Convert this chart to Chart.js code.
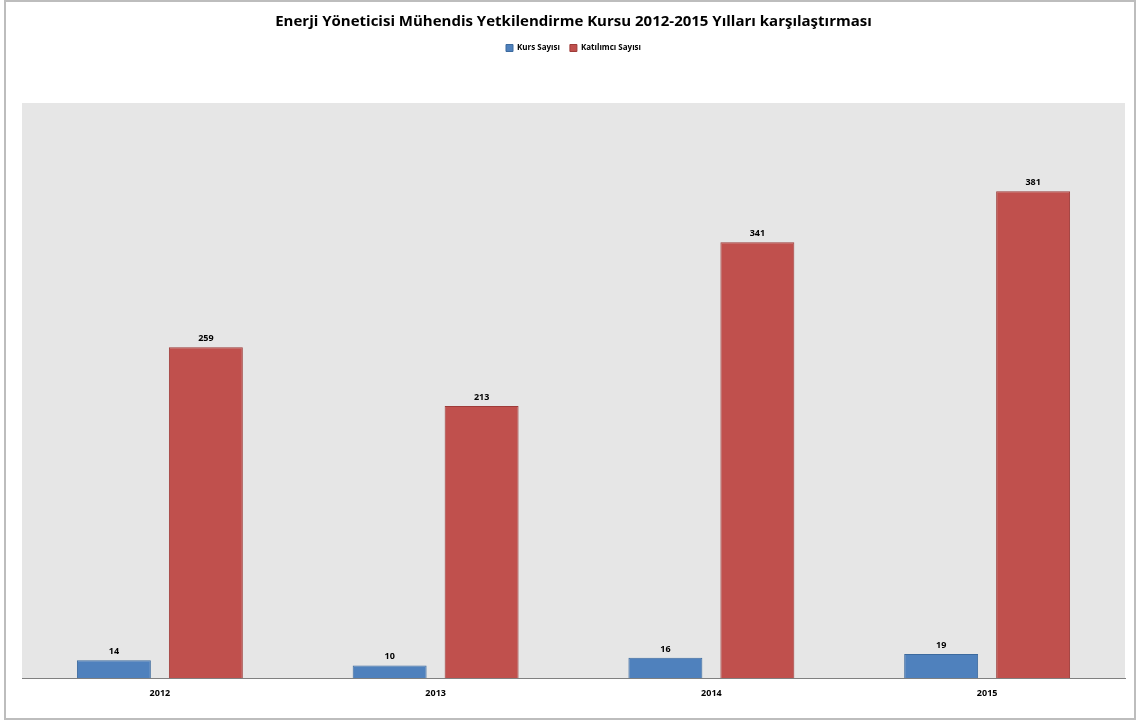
<!DOCTYPE html>
<html>
<head>
<meta charset="utf-8">
<script src="https://cdn.jsdelivr.net/npm/chart.js@4"></script>
<style>
  body { margin: 0; background: #ffffff; }
  #wrap { width: 1140px; height: 721px; }
</style>
</head>
<body>
<div id="wrap"><canvas id="courseChart"></canvas></div>
<script>
var years = ['2012', '2013', '2014', '2015'];
var kursSayisi = [14, 10, 16, 19];
var katilimciSayisi = [259, 213, 341, 381];

// fills the plot area grey and draws the outer frame
var backdrop = {
  id: 'backdrop',
  beforeDraw: function(chart) {
    var ctx = chart.ctx, a = chart.chartArea;
    ctx.save();
    ctx.fillStyle = '#ffffff';
    ctx.fillRect(0, 0, chart.width, chart.height);
    ctx.fillStyle = '#e6e6e6';
    ctx.fillRect(a.left, a.top, a.right - a.left, a.bottom - a.top);
    ctx.strokeStyle = '#bdbdbd';
    ctx.lineWidth = 2;
    ctx.strokeRect(5, 1, chart.width - 10, chart.height - 3);
    ctx.restore();
  }
};

// value labels above each bar
var valueLabels = {
  id: 'valueLabels',
  afterDatasetsDraw: function(chart) {
    var ctx = chart.ctx;
    ctx.save();
    ctx.font = 'bold 9px "Open Sans", sans-serif';
    ctx.fillStyle = '#000000';
    ctx.textAlign = 'center';
    ctx.textBaseline = 'bottom';
    chart.data.datasets.forEach(function(ds, i) {
      chart.getDatasetMeta(i).data.forEach(function(bar, j) {
        ctx.fillText(ds.data[j], bar.x, bar.y - 4);
      });
    });
    ctx.restore();
  }
};

// extra space under the legend
var legendGap = {
  id: 'legendGap',
  beforeInit: function(chart) {
    var fit = chart.legend.fit;
    chart.legend.fit = function() {
      fit.bind(chart.legend)();
      this.height += 41;
    };
  }
};

var ctx = document.getElementById('courseChart').getContext('2d');
new Chart(ctx, {
  type: 'bar',
  data: {
    labels: years,
    datasets: [{
      label: 'Kurs Sayısı',
      data: kursSayisi,
      backgroundColor: '#4f81bd',
      borderColor: '#3c6a9e',
      borderWidth: 1,
      categoryPercentage: 0.667,
      barPercentage: 0.804
    }, {
      label: 'Katılımcı Sayısı',
      data: katilimciSayisi,
      backgroundColor: '#c0504d',
      borderColor: '#9e3b39',
      borderWidth: 1,
      categoryPercentage: 0.667,
      barPercentage: 0.804
    }]
  },
  options: {
    responsive: true,
    maintainAspectRatio: false,
    animation: false,
    layout: { padding: { top: 8, left: 22, right: 15, bottom: 20 } },
    plugins: {
      title: {
        display: true,
        text: 'Enerji Yöneticisi Mühendis Yetkilendirme Kursu 2012-2015 Yılları karşılaştırması',
        color: '#000000',
        font: { family: '"Open Sans", sans-serif', size: 15, weight: 'bold' },
        padding: { top: 5, bottom: 3 }
      },
      legend: {
        labels: {
          boxWidth: 7,
          boxHeight: 7,
          color: '#000000',
          font: { family: '"Open Sans", sans-serif', size: 8, weight: 'bold' },
          padding: 10
        }
      },
      tooltip: { enabled: false }
    },
    scales: {
      x: {
        grid: { display: false },
        border: { color: '#808080' },
        ticks: {
          color: '#000000',
          font: { family: '"Open Sans", sans-serif', size: 9, weight: 'bold' },
          padding: 2
        }
      },
      y: {
        display: false,
        min: 0,
        max: 450
      }
    }
  },
  plugins: [backdrop, valueLabels, legendGap]
});
</script>
</body>
</html>
